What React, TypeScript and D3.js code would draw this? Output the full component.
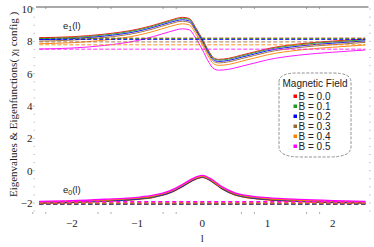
import * as d3 from 'd3'

const width = 374
const height = 247

const series = ['B = 0.0', 'B = 0.1', 'B = 0.2', 'B = 0.3', 'B = 0.4', 'B = 0.5']
const colors = ['#ff0000', '#1f9a1f', '#0000ff', '#9a6633', '#ff8000', '#ff00ff']

// e1(l) curves
const e1X = [-2.5, -2, -1.5, -1, -0.75, -0.5, -0.3, -0.2, -0.1, 0, 0.1, 0.17, 0.25, 0.4, 0.6, 0.8, 1, 1.5, 2, 2.5]
const e1B0 = [8.23, 8.29, 8.45, 8.75, 9.0, 9.3, 9.49, 9.42, 8.85, 8.15, 7.4, 7.0, 6.89, 6.95, 7.15, 7.35, 7.55, 7.85, 8.02, 8.15]
const e1B1 = [8.18, 8.24, 8.4, 8.7, 8.95, 9.25, 9.43, 9.36, 8.8, 8.1, 7.35, 6.95, 6.84, 6.9, 7.1, 7.3, 7.5, 7.8, 7.97, 8.1]
const e1B2 = [8.11, 8.17, 8.33, 8.62, 8.87, 9.17, 9.34, 9.27, 8.72, 8.03, 7.27, 6.87, 6.76, 6.82, 7.02, 7.22, 7.42, 7.72, 7.89, 8.03]
const e1B3 = [8.02, 8.08, 8.24, 8.53, 8.78, 9.08, 9.25, 9.18, 8.63, 7.94, 7.18, 6.78, 6.67, 6.73, 6.93, 7.13, 7.33, 7.63, 7.8, 7.94]
const e1B4 = [7.86, 7.92, 8.08, 8.37, 8.62, 8.92, 9.09, 9.02, 8.48, 7.8, 7.03, 6.63, 6.52, 6.57, 6.77, 6.97, 7.17, 7.47, 7.64, 7.78]
const e1B5 = [7.53, 7.59, 7.75, 8.05, 8.3, 8.6, 8.78, 8.72, 8.2, 7.5, 6.72, 6.33, 6.22, 6.27, 6.46, 6.66, 6.86, 7.16, 7.33, 7.47]
const e1Levels = [8.2, 8.19, 8.12, 7.97, 7.79, 7.52]

// e0(l) curves
const e0X = [-2.5, -2, -1.5, -1, -0.75, -0.5, -0.3, -0.15, 0, 0.15, 0.3, 0.5, 0.75, 1, 1.5, 2, 2.5]
const e0B0 = [-2.0, -1.97, -1.9, -1.78, -1.65, -1.38, -0.98, -0.62, -0.42, -0.68, -1.12, -1.5, -1.7, -1.8, -1.91, -1.97, -2.0]
const e0B1 = [-1.98, -1.95, -1.88, -1.76, -1.63, -1.36, -0.96, -0.6, -0.4, -0.66, -1.1, -1.48, -1.68, -1.78, -1.89, -1.95, -1.98]
const e0B2 = [-1.97, -1.93, -1.86, -1.74, -1.61, -1.34, -0.94, -0.58, -0.38, -0.64, -1.08, -1.46, -1.66, -1.76, -1.87, -1.93, -1.97]
const e0B3 = [-1.95, -1.91, -1.84, -1.72, -1.59, -1.32, -0.92, -0.56, -0.36, -0.62, -1.06, -1.44, -1.64, -1.74, -1.85, -1.91, -1.95]
const e0B4 = [-1.93, -1.89, -1.81, -1.69, -1.56, -1.29, -0.89, -0.53, -0.33, -0.59, -1.03, -1.41, -1.61, -1.71, -1.82, -1.88, -1.93]
const e0B5 = [-1.9, -1.86, -1.77, -1.65, -1.52, -1.25, -0.85, -0.49, -0.29, -0.55, -0.99, -1.37, -1.57, -1.67, -1.78, -1.85, -1.9]
const e0Levels = [-2.06, -2.06, -2.06, -2.05, -1.97, -1.92]

const xTicks = [-2, -1, 0, 1, 2]
const xMinorTicks = [-2.6, -2.4, -1.6, -1.4, -0.6, -0.4, 0.6, 0.8, 1.6, 1.8]
const yTicks = [-2, 0, 2, 4, 6, 8, 10]

const e1Data = [e1B0, e1B1, e1B2, e1B3, e1B4, e1B5]
const e0Data = [e0B0, e0B1, e0B2, e0B3, e0B4, e0B5]

const x = d3.scaleLinear().domain([-2.55, 2.55]).range([36, 368.5])
const y = d3.scaleLinear().domain([-2.62, 10.13]).range([213, 7])

const serif = '"Liberation Serif", "Times New Roman", serif'
const sans = '"Liberation Sans", Arial, sans-serif'

function App() {
  const makeLine = (xs: number[]) =>
    d3
      .line<number>()
      .x((_, i) => x(xs[i]))
      .y((d) => y(d))
      .curve(d3.curveMonotoneX)

  const e1Line = makeLine(e1X)
  const e0Line = makeLine(e0X)
  const yMinor = d3.range(-2.5, 10.01, 0.5)

  // legend box: straight sides, flattened arcs top and bottom
  const lx0 = 279
  const lx1 = 351
  const ly0 = 73
  const ly1 = 157
  const legendPath = `M${lx0},${ly0 + 9} Q${lx0},${ly0} ${lx0 + 18},${ly0} L${lx1 - 18},${ly0} Q${lx1},${ly0} ${lx1},${ly0 + 9} L${lx1},${ly1 - 10} Q${lx1},${ly1} ${lx1 - 22},${ly1} L${lx0 + 22},${ly1} Q${lx0},${ly1} ${lx0},${ly1 - 10} Z`

  return (
    <svg
      width={width}
      height={height}
      style={{ position: 'absolute', left: 0, top: 0, background: '#fff' }}
    >
      {/* frame top line */}
      <line x1={x.range()[0]} x2={x.range()[1]} y1={7} y2={7} stroke="#555" strokeWidth={1} />
      {xMinorTicks.map((t) => (
        <g key={t}>
          <line x1={x(t)} x2={x(t)} y1={7} y2={9} stroke="#888" strokeWidth={0.8} />
          <line x1={x(t)} x2={x(t)} y1={212} y2={214} stroke="#999" strokeWidth={0.8} />
        </g>
      ))}
      {yMinor.map((t) => (
        <g key={t}>
          <line
            x1={t % 2 === 0 ? 32.5 : 33.5}
            x2={35}
            y1={y(t)}
            y2={y(t)}
            stroke="#aaa"
            strokeWidth={0.7}
          />
          <line x1={369} x2={371} y1={y(t)} y2={y(t)} stroke="#bbb" strokeWidth={0.7} />
        </g>
      ))}

      {/* tick labels */}
      {yTicks.map((t) => (
        <text
          key={t}
          x={32.5}
          y={y(t)}
          dy="0.35em"
          textAnchor="end"
          fontFamily={serif}
          fontSize={11}
          fill="#222"
        >
          {t < 0 ? `\u2212${-t}` : t}
        </text>
      ))}
      {xTicks.map((t) => (
        <text
          key={t}
          x={x(t)}
          y={226.5}
          textAnchor="middle"
          fontFamily={serif}
          fontSize={11}
          fill="#222"
        >
          {t < 0 ? `\u2212${-t}` : t}
        </text>
      ))}

      {/* axis titles */}
      <text x={x(0)} y={242} textAnchor="middle" fontFamily={serif} fontSize={11} fill="#222">
        l
      </text>
      <text
        transform={`translate(17,${y(4.1)}) rotate(-90)`}
        textAnchor="middle"
        fontFamily={serif}
        fontSize={11}
        fill="#222"
      >
        Eigenvalues &amp; Eigenfunctions( χ
        <tspan fontSize={8} dy={2}>l</tspan>
        <tspan dy={-2}> config )</tspan>
      </text>

      {/* curves */}
      {e1Data.map((d, i) => (
        <path key={'e1' + i} d={e1Line(d) ?? ''} fill="none" stroke={colors[i]} strokeWidth={0.9} />
      ))}
      {e0Data.map((d, i) => (
        <path key={'e0' + i} d={e0Line(d) ?? ''} fill="none" stroke={colors[i]} strokeWidth={1.3} />
      ))}
      {e1Levels.map((v, i) => (
        <line
          key={'l1' + i}
          x1={x(-2.5)}
          x2={x(2.5)}
          y1={y(v)}
          y2={y(v)}
          stroke={colors[i]}
          strokeWidth={0.85}
          strokeDasharray="4,2"
        />
      ))}
      {e0Levels.map((v, i) => (
        <line
          key={'l0' + i}
          x1={x(-2.5)}
          x2={x(2.5)}
          y1={y(v)}
          y2={y(v)}
          stroke={colors[i]}
          strokeWidth={1.5}
          strokeDasharray="4,3"
        />
      ))}

      {/* curve labels */}
      <text x={63} y={28.5} fontFamily={sans} fontSize={9.5} fill="#222">
        e<tspan fontSize={7} dy={2}>1</tspan>
        <tspan dy={-2}>(l)</tspan>
      </text>
      <text x={63} y={193} fontFamily={sans} fontSize={9.5} fill="#222">
        e<tspan fontSize={7} dy={2}>0</tspan>
        <tspan dy={-2}>(l)</tspan>
      </text>

      {/* legend */}
      <path
        d={legendPath}
        fill="#fff"
        stroke="#777"
        strokeWidth={0.8}
        strokeDasharray="3,1.5"
      />
      <text x={315} y={87} textAnchor="middle" fontFamily={sans} fontSize={10} fill="#222">
        Magnetic Field
      </text>
      {series.map((s, i) => (
        <g key={s} transform={`translate(0,${100 + i * 10})`}>
          <rect x={293.5} y={-5.5} width={3.5} height={3.5} fill={colors[i]} />
          <text x={298.5} y={0} fontFamily={sans} fontSize={10} fill="#222">
            {s}
          </text>
        </g>
      ))}
    </svg>
  )
}

export default App
